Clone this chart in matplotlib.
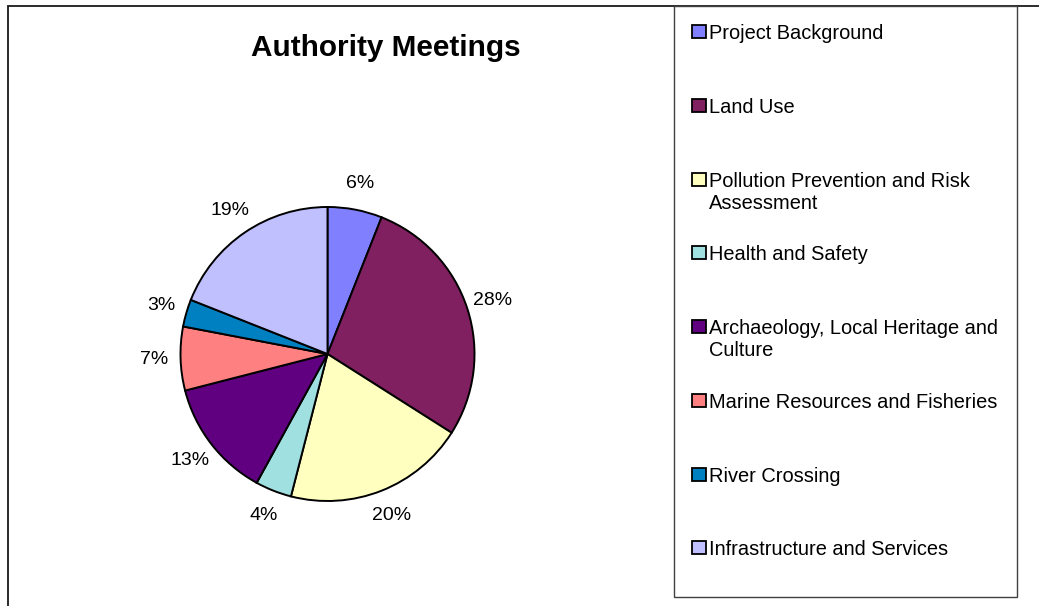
import matplotlib
matplotlib.use("Agg")
import matplotlib.pyplot as plt
from matplotlib.patches import Rectangle

plt.rcParams['font.family'] = ['Liberation Sans', 'DejaVu Sans']

# meeting topics and their share of authority meetings (%)
topics = [
    'Project Background',
    'Land Use',
    'Pollution Prevention and Risk\nAssessment',
    'Health and Safety',
    'Archaeology, Local Heritage and\nCulture',
    'Marine Resources and Fisheries',
    'River Crossing',
    'Infrastructure and Services',
]
shares = [6, 28, 20, 4, 13, 7, 3, 19]
colors = ['#8080FF', '#802060', '#FFFFC0', '#A0E0E0',
          '#600080', '#FF8080', '#0080C0', '#C0C0FF']
title = 'Authority Meetings'

W, H = 1039, 606
fig = plt.figure(figsize=(W / 100, H / 100), dpi=100)


def fx(x):
    return x / W


def fy(y):
    return 1 - y / H


# chart frame (runs off the right and bottom edge)
fig.patches.append(Rectangle((fx(8), fy(700)), fx(1200), fy(6) - fy(700),
                             transform=fig.transFigure, fill=False,
                             edgecolor='#1a1a1a', lw=1.3, zorder=0))

# pie: centre at (327.5, 354) px, radius 147 px
R = 147
L = 1.4
S = 2 * L * R
cx, cy = 327.5, 354
ax = fig.add_axes([fx(cx - S / 2), fy(cy + S / 2), S / W, S / H])
ax.pie(shares, colors=colors, startangle=90, counterclock=False,
       autopct='%d%%', pctdistance=1.18,
       wedgeprops=dict(edgecolor='black', linewidth=1.4),
       textprops=dict(fontsize=14, color='black'))
ax.set_xlim(-L, L)
ax.set_ylim(-L, L)
ax.set_aspect('equal')
ax.axis('off')

fig.text(fx(386), fy(48), title, fontsize=21.4, fontweight='bold',
         ha='center', va='center')

# legend box
fig.patches.append(Rectangle((fx(674), fy(597)), fx(1017) - fx(674),
                             fy(6) - fy(597), transform=fig.transFigure,
                             fill=False, edgecolor='#404040', lw=1.0,
                             zorder=1))

step = 73.7
line_gap = 22
for i, (name, c) in enumerate(zip(topics, colors)):
    base = 39.3 + i * step
    fig.patches.append(Rectangle((fx(692), fy(base - 1)), 14 / W, 13 / H,
                                 transform=fig.transFigure, facecolor=c,
                                 edgecolor='black', lw=1.3, zorder=2))
    for k, line in enumerate(name.split('\n')):
        fig.text(fx(709), fy(base + k * line_gap), line, fontsize=14.4,
                 ha='left', va='baseline')

fig.savefig('out.png', dpi=100, facecolor='white')
